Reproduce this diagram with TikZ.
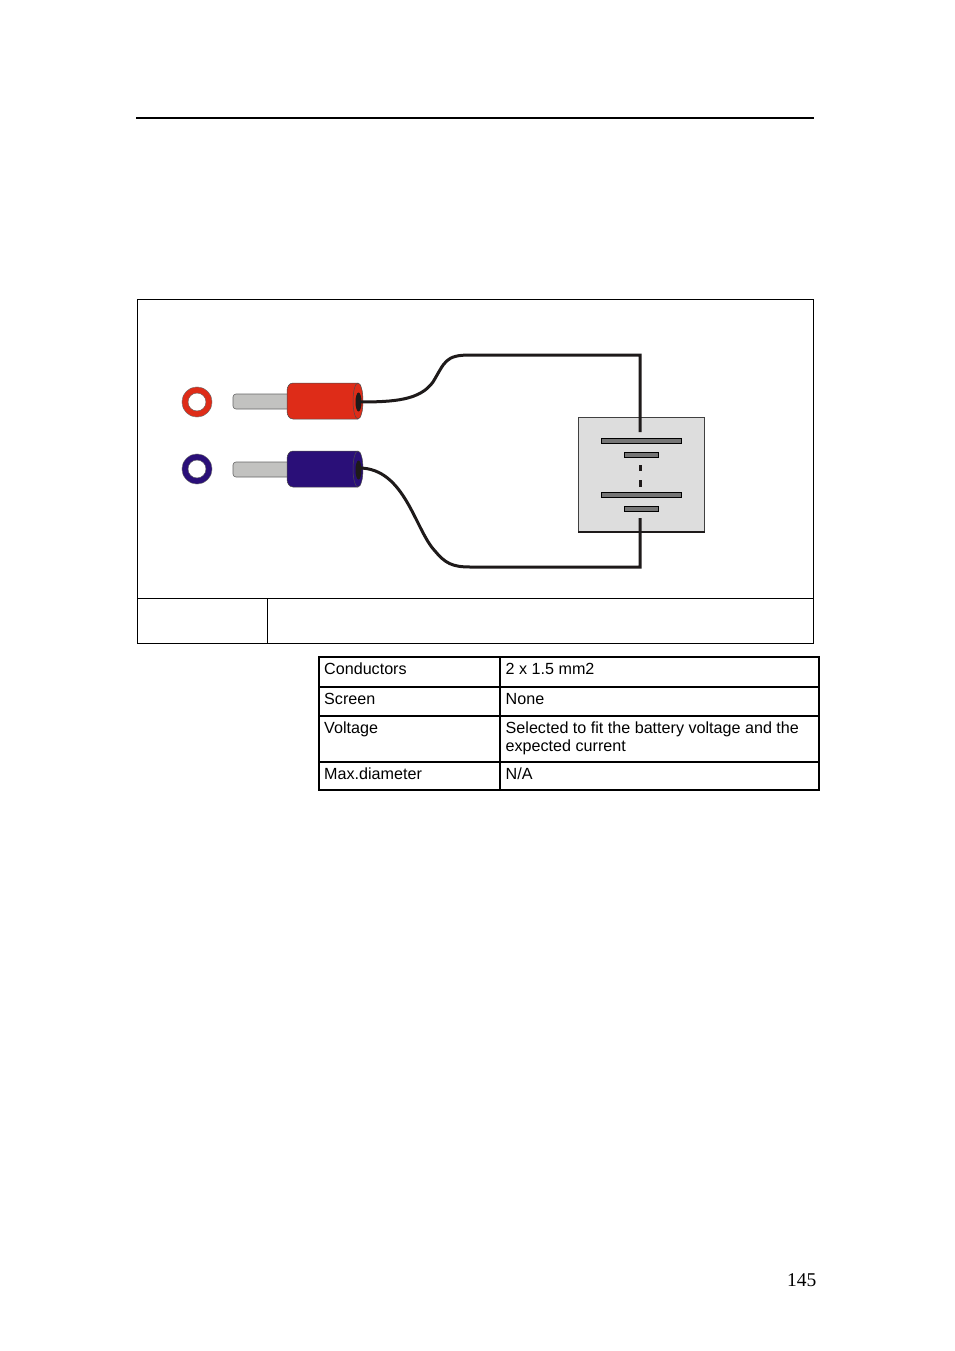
\documentclass[tikz,border=0pt]{standalone}
\usepackage{fontspec}
\setmainfont{Liberation Sans}
\newfontfamily\pagefont{Liberation Serif}
\definecolor{plugred}{HTML}{DE2C18}
\definecolor{plugblue}{HTML}{2A0F78}
\definecolor{pingrey}{HTML}{C2C2C0}
\definecolor{boxgrey}{HTML}{DDDDDD}
\definecolor{bargrey}{HTML}{757575}
\definecolor{wire}{HTML}{1E1A1A}
\tikzset{
  px/.style={x=1pt,y=-1pt},
  frameline/.style={draw=black,line width=0.8pt},
  tableline/.style={draw=black,line width=1.7pt},
  celltext/.style={font=\fontsize{16.13}{18}\selectfont,anchor=base west,inner sep=0pt,align=left},
  wireline/.style={draw=wire,line width=3pt},
  pin/.style={draw=black!60,fill=pingrey,line width=0.6pt,rounded corners=3pt},
  bar/.style={draw=black,fill=bargrey,line width=0.8pt},
  outline/.style={draw=black!70,line width=0.5pt},
  ringout/.style={draw=black!60,line width=0.4pt},
}
\begin{document}
\begin{tikzpicture}[px]
\useasboundingbox (0,0) rectangle (954,1351);
\fill[white] (0,0) rectangle (954,1351);
\draw[draw=black,line width=1.7pt] (136,118) -- (814,118);
% frame
\draw[frameline] (137.5,299.5) rectangle (813.5,643.5);
\draw[frameline] (137.5,598.5) -- (813.5,598.5);
\draw[frameline] (267.5,598.5) -- (267.5,643.5);
% rings
\draw[draw=plugred,line width=6pt] (197,402) circle (12);
\draw[draw=plugblue,line width=6pt] (197,469) circle (12);
\foreach \ry in {402,469}{
  \draw[ringout] (197,\ry) circle (15);
  \draw[ringout] (197,\ry) circle (9);
}
% pins
\draw[pin] (290,394) -- (233,394) -- (233,409) -- (290,409);
\draw[pin] (290,462) -- (233,462) -- (233,477) -- (290,477);
% plug bodies
\foreach \cy/\col in {401/plugred,469/plugblue}{
  \path[fill=\col,outline] (293,\cy-18) -- (358,\cy-18)
     .. controls (360.8,\cy-18) and (363,\cy-10) .. (363,\cy)
     .. controls (363,\cy+10) and (360.8,\cy+18) .. (358,\cy+18)
     -- (293,\cy+18)
     .. controls (289,\cy+18) and (287,\cy+14) .. (287,\cy+10)
     -- (287,\cy-10) .. controls (287,\cy-14) and (289,\cy-18) .. (293,\cy-18) -- cycle;
  \draw[outline] (358,\cy-18) .. controls (355.2,\cy-18) and (353,\cy-10) .. (353,\cy)
     .. controls (353,\cy+10) and (355.2,\cy+18) .. (358,\cy+18);
  \fill[wire] (358.5,\cy+1) ellipse[x radius=3,y radius=9.5];
}
% battery box
\draw[fill=boxgrey,draw=black!75,line width=0.7pt] (578.5,417.5) rectangle (704.5,532);
\draw[draw=wire,line width=1.6pt] (578,532) -- (705,532);
% wires
\coordinate (redstart) at (359,402);
\coordinate (bluestart) at (359,468);
\coordinate (topend) at (640,432);
\coordinate (botend) at (640,518);
\draw[wireline,line join=miter] (redstart) .. controls (395,402) and (420,400) .. (433,382)
   .. controls (445,362) and (445,355) .. (470,355) -- (640,355) -- (topend);
\draw[wireline,line join=miter] (bluestart) .. controls (405,468) and (415,530) .. (435,551)
   .. controls (445,563) and (452,567) .. (470,567) -- (640,567) -- (botend);
% cells
\draw[bar] (601.5,438.5) rectangle (681.5,443.5);
\draw[bar] (624.5,452.5) rectangle (658.5,457.5);
\draw[bar] (601.5,492.5) rectangle (681.5,497.5);
\draw[bar] (624.5,506.5) rectangle (658.5,511.5);
\fill[wire] (639,465) rectangle (642,471);
\fill[wire] (639,480) rectangle (642,487);
% table
\draw[tableline] (319,657) rectangle (819,790);
\draw[tableline] (319,687) -- (819,687);
\draw[tableline] (319,716) -- (819,716);
\draw[tableline] (319,762) -- (819,762);
\draw[tableline] (500,657) -- (500,790);
\node[celltext] (c1) at (324,674.5) {Conductors};
\node[celltext] (d1) at (505.5,674.5) {2 x 1.5 mm2};
\node[celltext] (c2) at (324,704.5) {Screen};
\node[celltext] (d2) at (505.5,704.5) {None};
\node[celltext] (c3) at (324,733.5) {Voltage};
\node[celltext] (d3) at (505.5,733.5) {Selected to fit the battery voltage and the};
\node[celltext] (d3b) at (505.5,751) {expected current};
\node[celltext] (c4) at (324,779) {Max.diameter};
\node[celltext] (d4) at (505.5,779) {N/A};
\node[font=\pagefont\fontsize{19.5}{22}\selectfont,anchor=base east,inner sep=0pt] (pg) at (816.5,1286) {145};
\end{tikzpicture}
\end{document}
